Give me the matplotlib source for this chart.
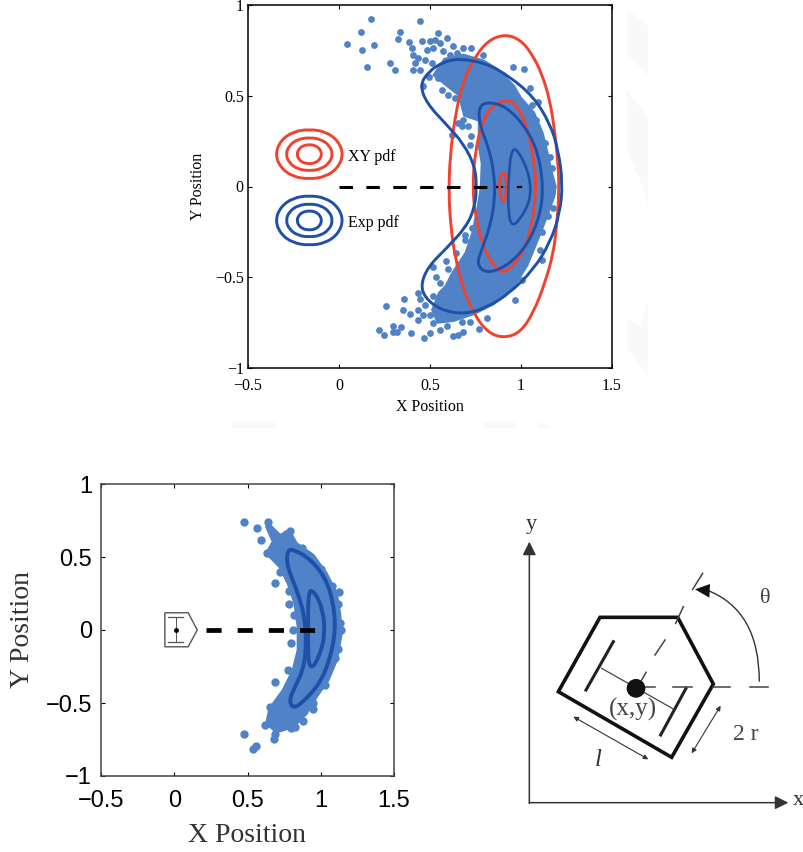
import numpy as np
import matplotlib
matplotlib.use("Agg")
import matplotlib.pyplot as plt
from matplotlib.patches import Polygon, Circle, PathPatch
from matplotlib.path import Path

## Colours
dot_col = "#4f82c6"
blue = "#1f50a8"
red = "#f0432f"

## Top panel: contours (x, y)
red_outer = [(.912,.839),(.995,.81),(1.059,.733),(1.114,.623),(1.159,.476),(1.187,.293),(1.205,.11),(1.209,-.037),
             (1.196,-.22),(1.178,-.366),(1.132,-.531),(1.068,-.696),(.995,-.806),(.903,-.835),(.821,-.806),(.747,-.714),
             (.683,-.568),(.637,-.385),(.614,-.22),(.603,-.037),(.61,.165),(.637,.385),(.683,.586),(.747,.714),(.821,.806)]
red_mid = [(.903,.48),(.976,.458),(1.04,.311),(1.077,.11),(1.082,-.037),(1.059,-.22),(1.013,-.366),(.912,-.485),
           (.848,-.44),(.784,-.311),(.747,-.147),(.734,0),(.747,.183),(.784,.348),(.83,.43)]
red_inner = [(.885,.07),(.918,.082),(.918,-.082),(.894,-.082),(.879,-.02)]
blue_outer = [(.665,.705),(.811,.678),(.94,.604),(1.068,.495),(1.159,.348),(1.205,.201),(1.229,.018),(1.214,-.147),
              (1.159,-.311),(1.068,-.458),(.94,-.586),(.811,-.668),(.683,-.705),(.555,-.678),(.473,-.614),(.449,-.54),
              (.491,-.44),(.592,-.339),(.701,-.22),(.747,-.11),(.756,0),(.747,.11),(.683,.238),(.592,.339),(.482,.458),
              (.445,.559),(.491,.632),(.573,.687)]
blue_mid = [(.766,.44),(.821,.467),(.921,.44),(1.031,.32),(1.095,.183),(1.123,0),(1.104,-.165),(1.031,-.33),(.921,-.44),
            (.811,-.48),(.756,-.43),(.784,-.348),(.83,-.22),(.857,-.073),(.853,.073),(.821,.22),(.775,.33)]
blue_inner = [(.949,.22),(.995,.183),(1.049,.055),(1.053,-.073),(.995,-.183),(.949,-.22),(.93,-.147),(.93,.037)]

## Top panel: solid part of the point cloud, and the separate points around it
top_cloud = [(.527,.615),(.582,.698),(.683,.72),(.792,.689),(.866,.643),(.957,.551),(.994,.487),(1.067,.404),(1.113,.294),
             (1.14,.184),(1.168,.06),(1.185,0),(1.175,-.06),(1.14,-.156),(1.094,-.275),(1.03,-.431),(.957,-.551),(.847,-.643),
             (.738,-.698),(.628,-.735),(.545,-.744),(.518,-.68),(.555,-.588),(.591,-.551),(.628,-.478),(.701,-.367),
             (.738,-.257),(.765,-.128),(.78,-.037),(.785,0),(.79,.129),(.774,.22),(.774,.367),(.692,.395),(.664,.505)]
top_dots = [(.178,.921),(.445,.912),(.042,.786),(.119,.849),(.128,.753),(.194,.781),(.335,.851),(.326,.814),(.152,.661),
            (.28,.68),(.307,.643),(.545,.845),(.527,.808),(.5,.799),(.454,.799),(.591,.817),(.555,.79),(.628,.775),
            (.683,.762),(.728,.762),(.792,.726),(.481,.753),(.518,.762),(.573,.744),(.609,.726),(.646,.735),(.386,.794),
            (.399,.762),(.408,.726),(.436,.707),(.417,.68),(.408,.643),(.445,.643),(.472,.698),(.509,.68),(.542,.597),
            (.564,.533),(.6,.505),(.637,.487),(.459,.555),(.494,.606),(.957,.661),(1.018,.648),(1.049,.542),(1.094,.468),
            (1.058,.45),(1.085,.367),(1.104,.276),(1.131,.239),(1.158,.165),(1.173,.101),(1.158,.055),(.683,.367),(.655,.349),
            (.619,.285),(.71,.331),(.674,.331),(.719,.229),(.728,.276),
            (.256,-.661),(.359,-.619),(.35,-.68),(.39,-.702),(.222,-.79),(.247,-.817),(.298,-.771),(.295,-.799),(.317,-.799),
            (.341,-.773),(.393,-.808),(.469,-.836),(.5,-.808),(.555,-.79),(.628,-.823),(.655,-.817),(.679,-.799),(.77,-.784),
            (.811,-.725),(.436,-.588),(.445,-.619),(.436,-.68),(.436,-.738),(.472,-.652),(.463,-.707),(.5,-.707),(.518,-.753),
            (.591,-.771),(.674,-.744),(.72,-.744),(.518,-.606),(.555,-.533),(.531,-.5),(.514,-.444),(.597,-.455),(.588,-.413),
            (.642,-.364),(.692,-.294),(.692,-.266),(.729,-.23),(.966,-.624),(1.003,-.514),(1.104,-.349),(1.113,-.404),
            (1.113,-.248),(1.177,-.119),(1.149,-.165),(1.168,-.037)]

## Legend rings in the top panel: half width and half height around the centre
legend_shape = [(0,1.02),(.5,.92),(.88,.55),(1.04,0),(.88,-.55),(.5,-.92),(0,-1.02),(-.5,-.92),(-.88,-.55),(-1.04,0),(-.88,.55),(-.5,.92)]
legend_rings = [(.18,.135),(.125,.09),(.066,.052)]
legend_x = -.163
legend_red_y = .178
legend_blue_y = -.187
legend_labels = ["XY pdf", "Exp pdf"]

## Bottom left panel
low_cloud = [(.641,.73),(.72,.65),(.789,.673),(.834,.593),(.948,.513),(1.039,.387),(1.107,.25),(1.13,.113),(1.141,-.024),
             (1.107,-.207),(1.05,-.344),(.97,-.458),(.902,-.573),(.811,-.664),(.698,-.698),(.63,-.641),(.652,-.538),
             (.743,-.413),(.811,-.275),(.845,-.138),(.845,.022),(.823,.182),(.777,.319),(.72,.433),(.63,.525),(.675,.605),(.63,.707)]
low_dots = [(.477,.737),(.568,.696),(.595,.616),(.63,.525),(.641,.742),(.686,.323),(.784,.177),(.811,0),(.8,-.086),(.777,-.275),
            (.686,-.355),(.652,-.527),(.618,-.653),(.682,-.744),(.686,-.71),(.477,-.714),(.561,-.794),(.539,-.812),(1.125,.257),
            (.948,-.538),(.823,-.664),(.789,.68),(1.1,-.19),(1.13,.05),(1.12,.18),(.72,.62),(.76,.66),(.87,.56),(1.0,.42),
            (1.08,.3),(1.14,0),(1.12,-.13),(1.03,-.38),(.95,-.5),(.88,-.62),(.8,-.67),(.74,-.66),(.7,-.6),(.66,-.6),(.7,.5),
            (.72,.4),(.78,.27),(.82,.1)]
low_mid = [(.777,.547),(.811,.552),(.925,.49),(1.027,.365),(1.084,.205),(1.102,0),(1.061,-.207),(.993,-.367),(.88,-.493),
           (.811,-.538),(.784,-.481),(.823,-.39),(.88,-.275),(.902,-.115),(.891,.09),(.845,.25),(.789,.387),(.766,.479)]
low_inner = [(.914,.273),(.959,.262),(1.016,.136),(1.027,-.024),(1.005,-.138),(.948,-.264),(.914,-.23),(.914,-.024)]
icon_body = [(-.064,.118),(.095,.118),(.157,0),(.095,-.115),(-.064,-.115)]

xticks = [-.5, 0, .5, 1, 1.5]
yticks = [-1, -.5, 0, .5, 1]
xticklabels = ["\u22120.5", "0", "0.5", "1", "1.5"]
yticklabels = ["\u22121", "\u22120.5", "0", "0.5", "1"]

## Function for a closed contour, smoothed with quadratic path segments
def ring(ax, pts, col, lw):
    p = np.array(pts)
    mid = (p + np.roll(p, -1, axis=0))/2
    verts = [mid[-1]]
    codes = [Path.MOVETO]
    for i in range(len(p)):
        verts += [p[i], mid[i]]
        codes += [Path.CURVE3, Path.CURVE3]
    ax.add_patch(PathPatch(Path(verts, codes), fc="none", ec=col, lw=lw, zorder=4))

## Function for the shared axes setup
def setup(ax, font, size, xpad, ypad):
    ax.set_xlim(-.5, 1.5); ax.set_ylim(-1, 1)
    ax.set_xticks(xticks); ax.set_yticks(yticks)
    ax.set_xticklabels(xticklabels, family=font, fontsize=size)
    ax.set_yticklabels(yticklabels, family=font, fontsize=size)
    ax.tick_params(direction="in", top=True, right=True, length=3, width=.8)
    ax.tick_params(axis="x", pad=xpad)
    ax.tick_params(axis="y", pad=ypad)

W, H = 804, 852
fig = plt.figure(figsize=(W/100, H/100), dpi=100)

## Very faint marks in the page background (picture pixels)
faint = [[(627,9),(648,26),(648,75),(627,55)],
         [(627,90),(648,117),(648,208),(643,187),(627,150)],
         [(627,319),(640,326),(648,302),(648,376),(627,348)],
         [(232,422),(275,422),(275,428),(232,428)],
         [(483,422),(515,422),(515,428),(483,428)],
         [(538,422),(552,428),(538,428)]]
ax0 = fig.add_axes([0, 0, 1, 1])
ax0.set_xlim(0, W); ax0.set_ylim(H, 0); ax0.axis("off")
for f in faint:
    ax0.add_patch(Polygon(f, closed=True, fc="#f9f9f9", ec="none"))

## Top panel
serif = "Liberation Serif"
ax = fig.add_axes([248/W, 1-368/H, 364/W, 363/H])
setup(ax, serif, 11.5, 7.5, 3)
for s in ax.spines.values():
    s.set_linewidth(1.1)
ax.add_patch(Polygon(top_cloud, closed=True, fc=dot_col, ec=dot_col, lw=3, zorder=2))
d = np.array(top_dots)
ax.scatter(d[:,0], d[:,1], s=24, color=dot_col, lw=0, zorder=2)
ring(ax, red_outer, red, 2.1); ring(ax, red_mid, red, 2.1); ring(ax, red_inner, red, 1.9)
ring(ax, blue_outer, blue, 2.1); ring(ax, blue_mid, blue, 2.1); ring(ax, blue_inner, blue, 1.9)
shape = np.array(legend_shape)
for cy, col in [(legend_red_y, red), (legend_blue_y, blue)]:
    for hw, hh in legend_rings:
        ring(ax, [(legend_x + hw*a, cy + hh*b) for a, b in shape], col, 2.1)
ax.plot([0, .84], [0, 0], color="k", lw=2.2, dashes=(4.4, 4.4), zorder=5)
ax.plot([.865, .92], [0, 0], color="k", lw=1.6, dashes=(1, 1.2), zorder=5)
ax.plot([.985, 1], [0, 0], color="k", lw=1.6, zorder=5)
ax.text(.05, .165, legend_labels[0], family=serif, fontsize=11.5, va="center")
ax.text(.05, -.2, legend_labels[1], family=serif, fontsize=11.5, va="center")
ax.set_xlabel("X Position", family=serif, fontsize=11.5)
ax.set_ylabel("Y Position", family=serif, fontsize=11.5)
ax.xaxis.set_label_coords(.5, -.085)
ax.yaxis.set_label_coords(-.116, .5)

## Bottom left panel
ax2 = fig.add_axes([101/W, 1-776/H, 293/W, 292/H])
setup(ax2, "Liberation Sans", 17, 10, 6.5)
for s in ax2.spines.values():
    s.set_linewidth(1.1); s.set_color("#444444")
ax2.add_patch(Polygon(low_cloud, closed=True, fc=dot_col, ec=dot_col, lw=2, zorder=2))
d2 = np.array(low_dots)
ax2.scatter(d2[:,0], d2[:,1], s=36, color=dot_col, lw=0, zorder=2)
ring(ax2, low_mid, blue, 2.8); ring(ax2, low_inner, blue, 2.8)
ax2.plot([.22, .97], [0, 0], color="k", lw=3.4, dashes=(3.2, 3.4), zorder=5)
ax2.add_patch(Polygon(icon_body, closed=True, fc="white", ec="#555555", lw=1, zorder=4))
ax2.plot([-.04, .06], [.09, .09], color="#555555", lw=.9, zorder=5)
ax2.plot([-.04, .06], [-.08, -.08], color="#555555", lw=.9, zorder=5)
ax2.plot([.01, .01], [.09, -.08], color="#555555", lw=.7, zorder=5)
ax2.plot([.01], [0], "o", color="k", ms=2.5, zorder=6)
ax2.set_xlabel("X Position", family=serif, fontsize=20, color="#333333")
ax2.set_ylabel("Y Position", family=serif, fontsize=20, color="#333333")
ax2.xaxis.set_label_coords(.5, -.16)
ax2.yaxis.set_label_coords(-.225, .5)

## Robot schematic, drawn in its own picture coordinates
body = [(270,322),(503,322),(610,522),(485,742),(145,545)]
bars = [((310,395),(228,540)), ((528,535),(452,675))]
axle = [(275,475),(490,597)]
dashes_h = [((405,532),(435,532)), ((490,532),(545,532)), ((610,530),(660,530)), ((720,530),(775,530))]
dashes_o = [((395,510),(408,487)), ((435,435),(465,390)), ((497,340),(520,290)), ((548,238),(578,190))]
arc_ctrl = [(748,515),(748,300),(590,240)]
double_arrows = [((190,620),(415,748)), ((545,730),(632,587))]

ax3 = fig.add_axes([510/W, 1-820/H, 294/W, 310/H])
ax3.set_xlim(0, 882); ax3.set_ylim(930, 0); ax3.axis("off")
ax3.add_patch(Polygon(body, closed=True, fc="none", ec="#111111", lw=2.6, joinstyle="miter"))
for p, q in bars:
    ax3.plot([p[0], q[0]], [p[1], q[1]], color="#222222", lw=2.2)
ax3.plot([axle[0][0], axle[1][0]], [axle[0][1], axle[1][1]], color="#444444", lw=.9)
for p, q in dashes_h + dashes_o:
    ax3.plot([p[0], q[0]], [p[1], q[1]], color="#444444", lw=1.1)
ax3.add_patch(Circle((378,535), 26, color="#111111", zorder=4))
ax3.add_patch(PathPatch(Path(arc_ctrl, [Path.MOVETO, Path.CURVE3, Path.CURVE3]), fc="none", ec="#333333", lw=1))
ax3.add_patch(Polygon([(555,238),(600,222),(598,263)], closed=True, fc="#111111", ec="none"))
ax3.annotate("", xy=(58,95), xytext=(58,880), arrowprops=dict(arrowstyle="-|>", color="#333333", lw=1.1, mutation_scale=20, shrinkA=0, shrinkB=0))
ax3.annotate("", xy=(835,878), xytext=(58,878), arrowprops=dict(arrowstyle="-|>", color="#333333", lw=1.1, mutation_scale=20, shrinkA=0, shrinkB=0))
for p, q in double_arrows:
    ax3.annotate("", xy=q, xytext=p, arrowprops=dict(arrowstyle="<|-|>", color="#333333", lw=.8, mutation_scale=7, shrinkA=0, shrinkB=0))
ax3.text(65, 42, "y", family=serif, fontsize=16, ha="center", va="center", color="#333333")
ax3.text(865, 872, "x", family=serif, fontsize=16, ha="center", va="center", color="#333333")
ax3.text(765, 265, "\u03b8", family=serif, fontsize=16, ha="center", va="center", color="#444444")
ax3.text(370, 598, "(x,y)", family=serif, fontsize=18, ha="center", va="center", color="#444444", zorder=5)
ax3.text(708, 672, "2 r", family=serif, fontsize=17, ha="center", va="center", color="#444444")
ax3.text(265, 750, "l", family=serif, style="italic", fontsize=18, ha="center", va="center", color="#333333")

fig.savefig("out.png", dpi=100)
